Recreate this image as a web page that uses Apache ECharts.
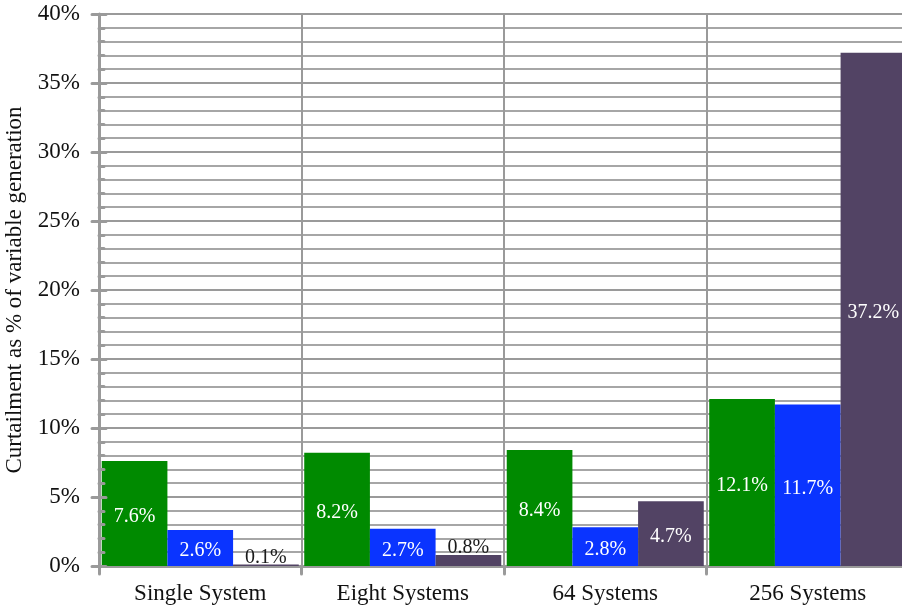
<!DOCTYPE html>
<html>
<head>
<meta charset="utf-8">
<script src="https://cdn.jsdelivr.net/npm/echarts@6/dist/echarts.min.js"></script>
<style>
  html, body { margin: 0; padding: 0; background: #fff; }
  #chart { width: 902px; height: 610px; }
</style>
</head>
<body>
<div id="chart"></div>
<script>
// Curtailment by number of aggregated systems
const categories = ['Single System', 'Eight Systems', '64 Systems', '256 Systems'];
const seriesGreen = [7.6, 8.2, 8.4, 12.1];
const seriesBlue = [2.6, 2.7, 2.8, 11.7];
const seriesPurple = [0.1, 0.8, 4.7, 37.2];
const yTicks = [0, 5, 10, 15, 20, 25, 30, 35, 40];

const FONT = '"Liberation Serif", "DejaVu Serif", serif';
const GRID_GRAY = '#a6a6a6';
const AXIS_GRAY = '#9a9a9a';

// Bars too short to hold their label get it above, in dark text
function withLabels(values) {
  return values.map(function (v) {
    if (v < 1.5) {
      return { value: v, label: { position: 'top', distance: 0, color: '#1a1a1a' } };
    }
    return v;
  });
}

function barSeries(values, color) {
  return {
    type: 'bar',
    data: withLabels(values),
    yAxisIndex: 0,
    barGap: '0%',
    barCategoryGap: '2.7%',
    itemStyle: { color: color },
    label: {
      show: true,
      position: 'inside',
      offset: [0, 3],
      color: '#ffffff',
      fontFamily: FONT,
      fontSize: 20,
      formatter: function (p) { return p.value.toFixed(1) + '%'; }
    },
    z: 3
  };
}

const chart = echarts.init(document.getElementById('chart'), null, { renderer: 'canvas' });

chart.setOption({
  animation: false,
  backgroundColor: '#ffffff',
  grid: { left: 99, top: 14, width: 810, height: 552, outerBoundsMode: 'none' },
  xAxis: {
    type: 'category',
    data: categories,
    boundaryGap: true,
    axisLine: { show: true, lineStyle: { color: AXIS_GRAY, width: 3 } },
    axisTick: { show: true, length: 8, lineStyle: { color: AXIS_GRAY, width: 3, cap: 'round' } },
    axisLabel: { color: '#111', fontFamily: FONT, fontSize: 23, margin: 16 },
    splitLine: { show: true, lineStyle: { color: AXIS_GRAY, width: 2 } },
    z: 1
  },
  yAxis: [
    {
      type: 'value',
      min: yTicks[0],
      max: yTicks[yTicks.length - 1],
      interval: yTicks[1] - yTicks[0],
      name: 'Curtailment as % of variable generation',
      nameLocation: 'middle',
      nameGap: 67,
      nameTextStyle: { color: '#111', fontFamily: FONT, fontSize: 23 },
      axisLine: { show: true, lineStyle: { color: AXIS_GRAY, width: 3 } },
      axisTick: { show: true, length: 7, lineStyle: { color: AXIS_GRAY, width: 3, cap: 'round' } },
      axisLabel: {
        color: '#111', fontFamily: FONT, fontSize: 23, margin: 19,
        formatter: function (v) { return v + '%'; }
      },
      splitLine: { show: true, lineStyle: { color: AXIS_GRAY, width: 2 } },
      minorTick: { show: false, splitNumber: 5 },
      minorSplitLine: { show: true, lineStyle: { color: GRID_GRAY, width: 2 } },
      z: 1
    },
    {
      // inner tick marks on the value axis, drawn over the bars
      type: 'value',
      position: 'left',
      min: yTicks[0],
      max: yTicks[yTicks.length - 1],
      interval: yTicks[1] - yTicks[0],
      axisLine: { show: false },
      axisTick: { show: true, inside: true, length: 7, lineStyle: { color: AXIS_GRAY, width: 3, cap: 'round' } },
      minorTick: { show: true, splitNumber: 5, length: 5, lineStyle: { color: AXIS_GRAY, width: 3, cap: 'round' } },
      axisLabel: { show: false },
      splitLine: { show: false },
      z: 5
    }
  ],
  series: [
    barSeries(seriesGreen, '#008a00'),
    barSeries(seriesBlue, '#0a34ff'),
    barSeries(seriesPurple, '#524364')
  ]
});
</script>
</body>
</html>
